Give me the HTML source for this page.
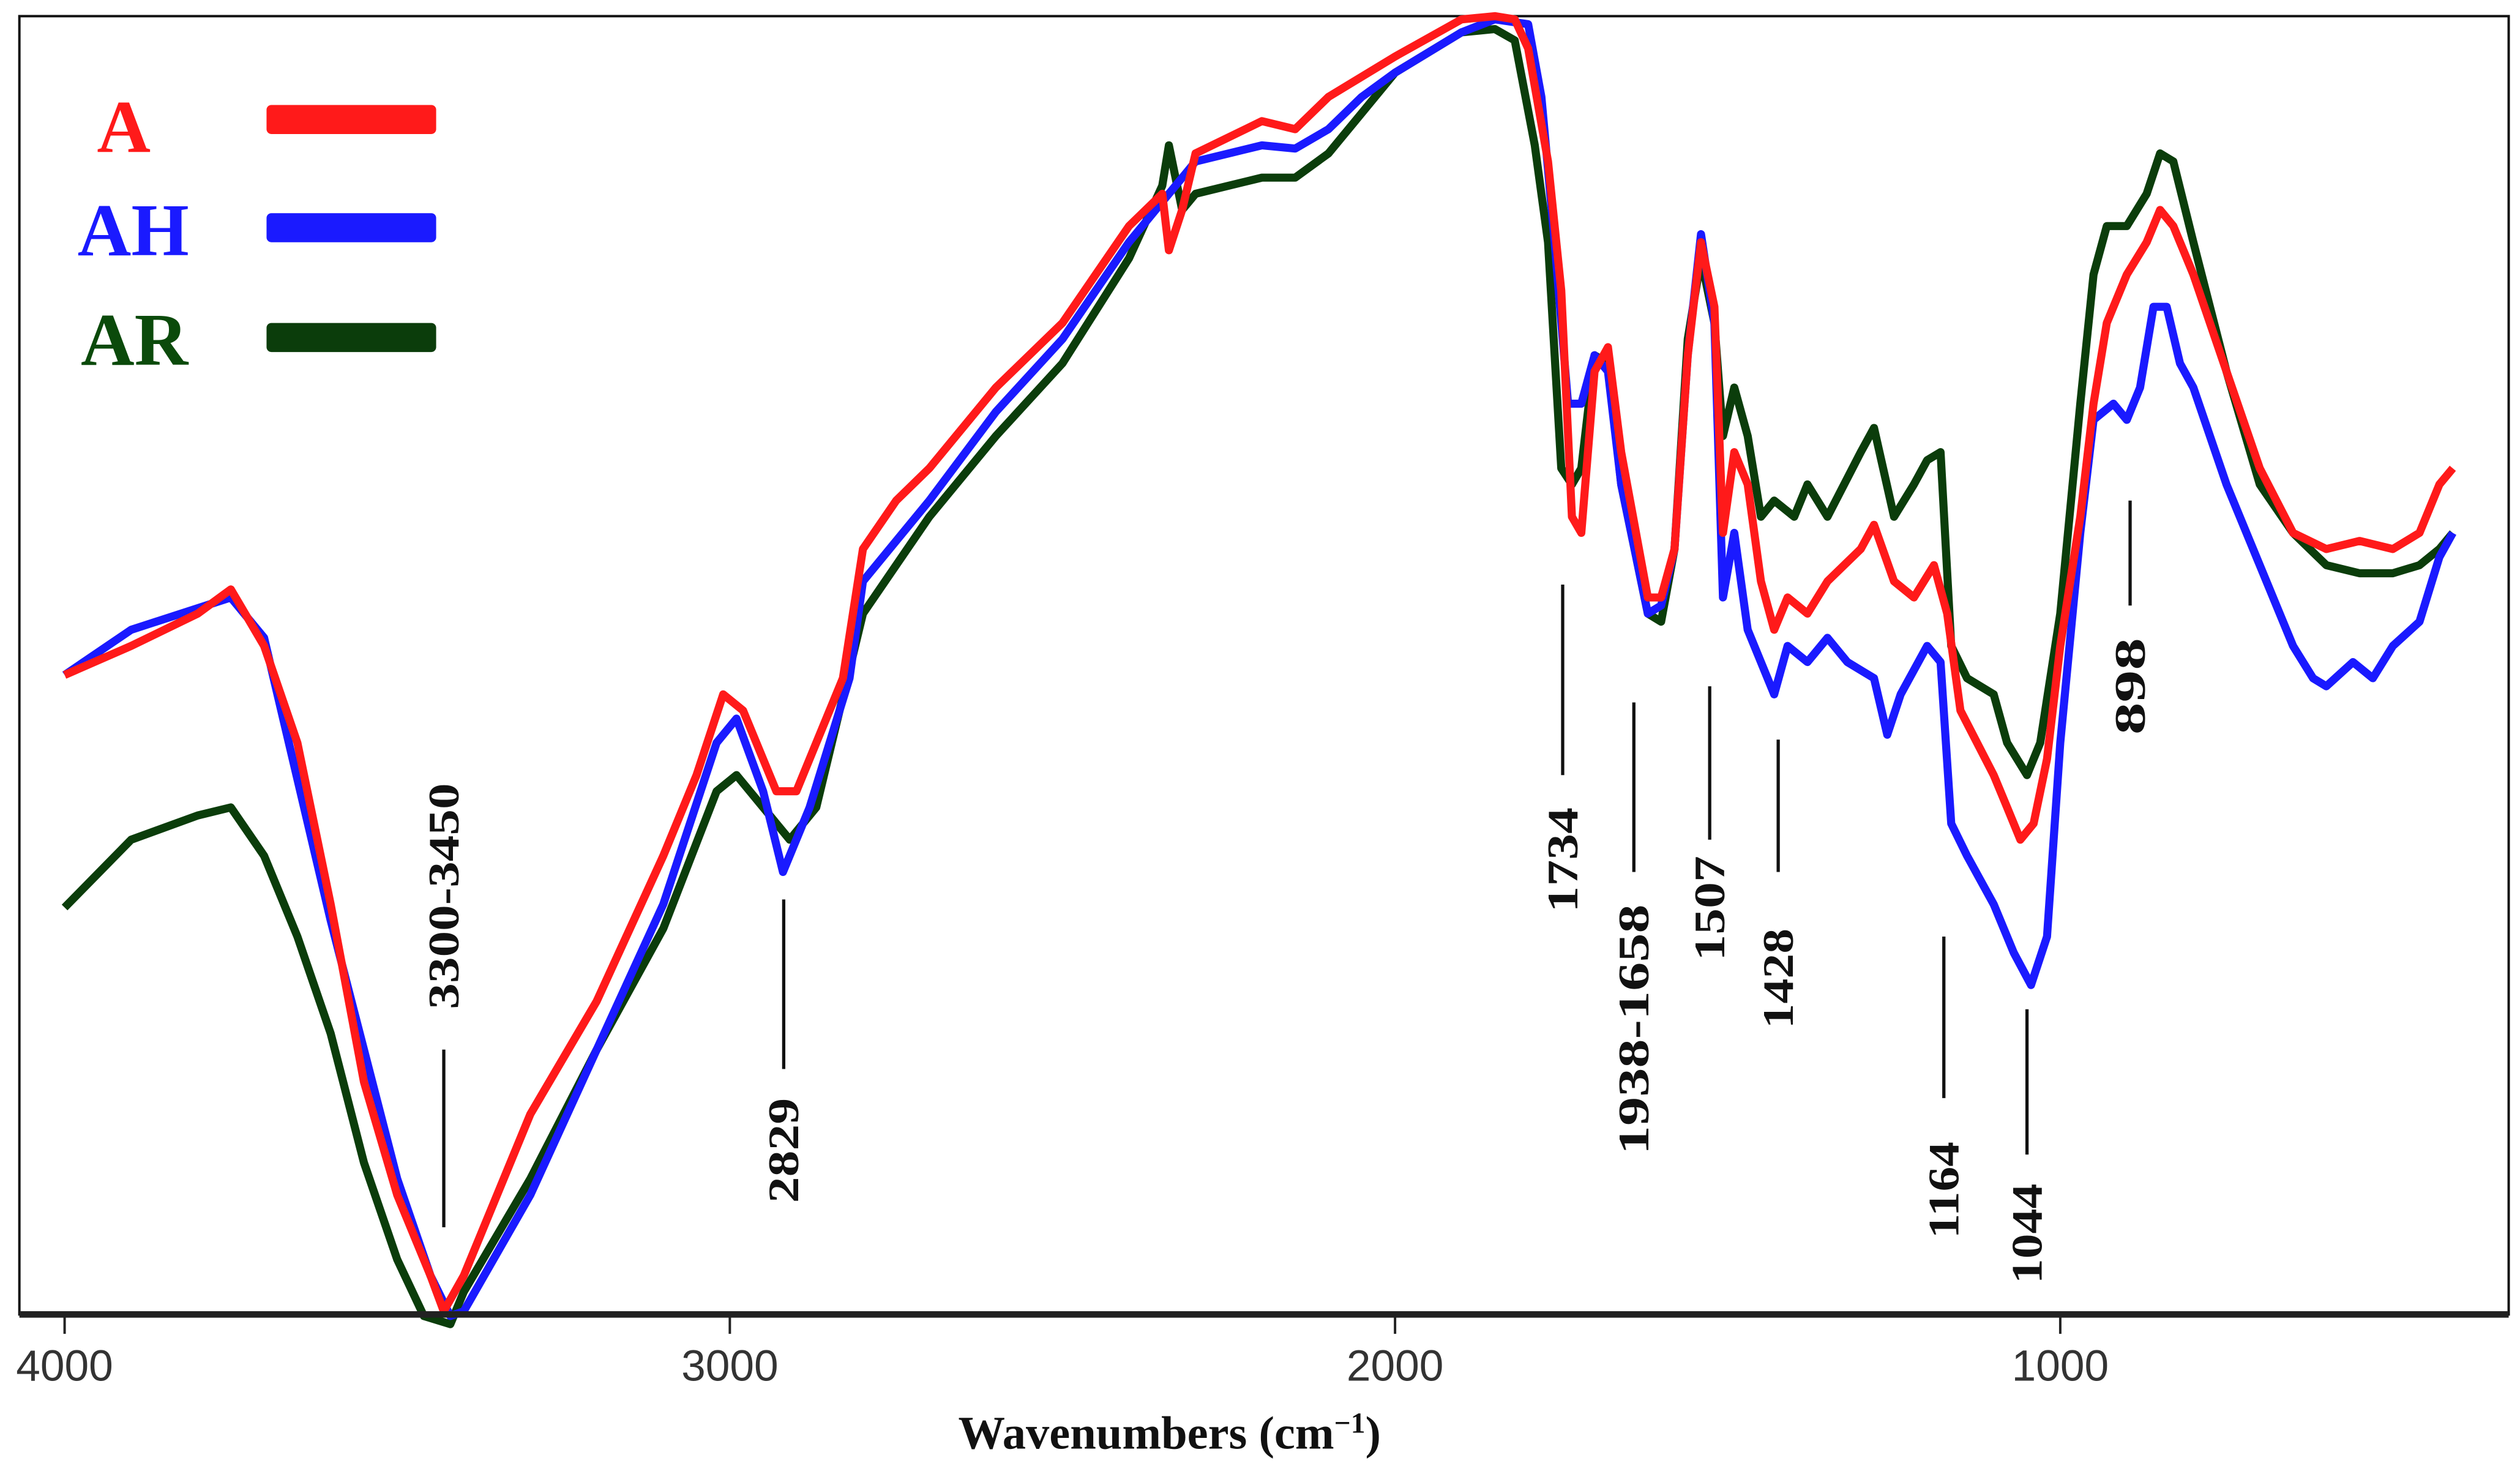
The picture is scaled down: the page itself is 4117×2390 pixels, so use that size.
<!DOCTYPE html>
<html><head><meta charset="utf-8"><style>
html,body{margin:0;padding:0;background:#fff;}
svg{display:block;}
.ann{font-family:"Liberation Serif",serif;font-weight:bold;font-size:27px;fill:#111;}
.tick{font-family:"Liberation Sans",sans-serif;font-size:27px;fill:#333;}
.leg{font-family:"Liberation Serif",serif;font-weight:bold;font-size:46px;}
</style></head><body>
<svg id="chart" width="4117" height="2390" viewBox="0 0 1560 906" preserveAspectRatio="none" xmlns="http://www.w3.org/2000/svg">
<rect x="12" y="10" width="1541" height="804" fill="none" stroke="#111" stroke-width="1.5"/>
<g id="series"></g>
<line x1="12" y1="814" x2="1553" y2="814" stroke="#222" stroke-width="4"/>
<g id="ticks"></g>
<text x="724" y="897" text-anchor="middle" style="font-family:'Liberation Serif',serif;font-weight:bold;font-size:29px;fill:#111">Wavenumbers (cm<tspan baseline-shift="super" font-size="18">−1</tspan>)</text>
<g>
<text class="leg" x="60" y="94" fill="#ff1a1a">A</text>
<rect x="165" y="65" width="105" height="18" rx="3" fill="#ff1a1a"/>
<text class="leg" x="48" y="158" fill="#1a1aff">AH</text>
<rect x="165" y="132" width="105" height="18" rx="3" fill="#1a1aff"/>
<text class="leg" x="50" y="226" fill="#0b4a0b">AR</text>
<rect x="165" y="200" width="105" height="18" rx="3" fill="#0b3d0b"/>
</g>
<g id="annots"></g>
</svg>
<script>
const tickValues=[4000,3000,2000,1000];
const wnA=[4000,3900,3800,3750,3700,3650,3600,3550,3500,3450,3430,3400,3350,3300,3200,3100,3050,3010,2980,2930,2900,2870,2830,2800,2750,2700,2600,2500,2400,2350,2340,2320,2300,2200,2150,2100,2000,1900,1850,1820,1800,1770,1750,1734,1720,1700,1680,1660,1620,1600,1580,1560,1540,1520,1507,1490,1470,1450,1430,1410,1380,1350,1300,1280,1250,1220,1190,1170,1150,1100,1080,1060,1040,1020,1000,970,950,930,900,870,850,830,800,750,700,650,600,550,500,460,430,410];
const valA=[39.6,41.4,43.4,44.9,41.4,35.4,25.4,14.4,7.4,2.4,0.2,2.4,7.4,12.4,19.4,28.4,33.4,38.4,37.4,32.4,32.4,35.4,39.4,47.4,50.4,52.4,57.4,61.4,67.4,69.4,65.9,68.4,71.9,73.9,73.4,75.4,77.9,80.2,80.4,80.2,78.4,71.4,63.4,49.4,48.4,58.4,59.9,53.4,44.4,44.4,47.4,59.4,66.4,62.4,48.4,53.4,51.4,45.4,42.4,44.4,43.4,45.4,47.4,48.9,45.4,44.4,46.4,43.4,37.4,33.4,31.4,29.4,30.4,34.4,41.4,49.4,56.4,61.4,64.4,66.4,68.4,67.4,64.4,58.4,52.4,48.4,47.4,47.9,47.4,48.4,51.4,52.4];
const wnAH=[4000,3900,3750,3700,3600,3500,3450,3420,3400,3300,3200,3100,3020,2990,2950,2920,2880,2820,2800,2700,2600,2500,2400,2300,2200,2150,2100,2050,2000,1900,1850,1800,1780,1760,1740,1720,1700,1680,1660,1620,1600,1580,1560,1540,1520,1507,1490,1470,1450,1430,1410,1380,1350,1320,1280,1260,1240,1200,1180,1164,1140,1100,1070,1044,1020,1000,970,950,920,900,880,860,840,820,800,750,700,650,620,600,560,530,500,460,430,410];
const valAH=[39.6,42.4,44.4,41.9,24.4,8.4,2.4,-0.1,0.2,7.4,16.4,25.4,35.4,36.9,32.4,27.4,31.4,39.4,45.4,50.4,55.9,60.4,66.4,71.4,72.4,72.2,73.4,75.4,76.9,79.4,80.2,79.9,75.4,66.4,56.4,56.4,59.4,58.4,51.4,43.4,43.9,47.4,59.4,66.9,61.4,44.4,48.4,42.4,40.4,38.4,41.4,40.4,41.9,40.4,39.4,35.9,38.4,41.4,40.4,30.4,28.4,25.4,22.4,20.4,23.4,35.4,48.4,55.4,56.4,55.4,57.4,62.4,62.4,58.9,57.4,51.4,46.4,41.4,39.4,38.9,40.4,39.4,41.4,42.9,46.9,48.4];
const wnAR=[4000,3900,3800,3750,3700,3650,3600,3550,3500,3460,3420,3400,3300,3200,3100,3020,2990,2950,2910,2870,2800,2700,2600,2500,2400,2350,2340,2320,2300,2200,2150,2100,2050,2000,1900,1850,1820,1790,1770,1750,1734,1720,1700,1680,1660,1620,1600,1580,1560,1540,1520,1507,1490,1470,1450,1430,1400,1380,1350,1300,1280,1250,1220,1200,1180,1164,1140,1100,1080,1050,1030,1000,970,950,930,900,870,850,830,800,750,700,650,600,550,500,460,430,410];
const valAR=[25.2,29.4,30.9,31.4,28.4,23.4,17.4,9.4,3.4,-0.1,-0.6,1.4,8.4,16.4,23.9,32.4,33.4,31.4,29.4,31.4,43.4,49.4,54.4,58.9,65.4,69.9,72.4,68.4,69.4,70.4,70.4,71.9,74.4,76.9,79.4,79.6,78.9,72.4,66.4,52.4,51.4,52.4,59.4,58.9,51.4,43.4,42.9,47.4,60.4,65.4,61.4,54.4,57.4,54.4,49.4,50.4,49.4,51.4,49.4,53.4,54.9,49.4,51.4,52.9,53.4,41.4,39.4,38.4,35.4,33.4,35.4,43.4,56.4,64.4,67.4,67.4,69.4,71.9,71.4,66.4,58.4,51.4,48.4,46.4,45.9,45.9,46.4,47.4,48.4];
const peakLabels=["3300-3450","2829","1734","1938-1658","1507","1428","1164","1044","898"];
const peakPos=[3430,2919,1748,1641,1527,1424,1175,1050,895];

const NS="http://www.w3.org/2000/svg";
function xS(w){return 40+(4000-w)*0.4118;}
function yS(v){return 814-v*10;}
const series=document.getElementById('series');
function draw(wn,val,color,name){
  const n=Math.min(wn.length,val.length);
  let d="";
  for(let i=0;i<n;i++){d+=(i?"L":"M")+xS(wn[i]).toFixed(1)+","+yS(val[i]).toFixed(1);}
  const p=document.createElementNS(NS,'path');
  p.setAttribute('d',d);p.setAttribute('fill','none');p.setAttribute('stroke',color);
  p.setAttribute('stroke-width','5');p.setAttribute('stroke-linejoin','round');
  
  
  series.appendChild(p);
}
draw(wnAR,valAR,'#0b3d0b','series-ar');
draw(wnAH,valAH,'#1a1aff','series-ah');
draw(wnA,valA,'#ff1a1a','series-a');

const ticks=document.getElementById('ticks');
tickValues.forEach(t=>{
  const l=document.createElementNS(NS,'line');
  l.setAttribute('x1',xS(t));l.setAttribute('x2',xS(t));l.setAttribute('y1',814);l.setAttribute('y2',826);
  l.setAttribute('stroke','#222');l.setAttribute('stroke-width','1.5');
  
  
  ticks.appendChild(l);
  const tx=document.createElementNS(NS,'text');
  tx.setAttribute('x',xS(t));tx.setAttribute('y',855);tx.setAttribute('text-anchor','middle');
  tx.setAttribute('class','tick');tx.textContent=t;
  
  
  ticks.appendChild(tx);
});

// annotation layout (pixels): [lineTop,lineBottom,textTop,textLength]
const annLayout=[[650,760,485,140],[557,662,680,65],[362,480,500,65],[435,540,560,155],[425,520,530,65],[458,540,575,62],[580,680,707,60],[625,715,733,62],[310,375,395,60]];
const annots=document.getElementById('annots');
peakLabels.forEach((lab,i)=>{
  const x=xS(peakPos[i]);const L=annLayout[i];
  const l=document.createElementNS(NS,'line');
  l.setAttribute('x1',x);l.setAttribute('x2',x);l.setAttribute('y1',L[0]);l.setAttribute('y2',L[1]);
  l.setAttribute('stroke','#111');l.setAttribute('stroke-width','2');
  
  
  annots.appendChild(l);
  const t=document.createElementNS(NS,'text');
  t.setAttribute('class','ann');t.setAttribute('text-anchor','end');
  t.setAttribute('textLength',L[3]);t.setAttribute('lengthAdjust','spacingAndGlyphs');
  t.setAttribute('transform','translate('+(x+9)+','+L[2]+') rotate(-90)');
  t.textContent=lab;
  
  
  annots.appendChild(t);
});
</script>
</body></html>
